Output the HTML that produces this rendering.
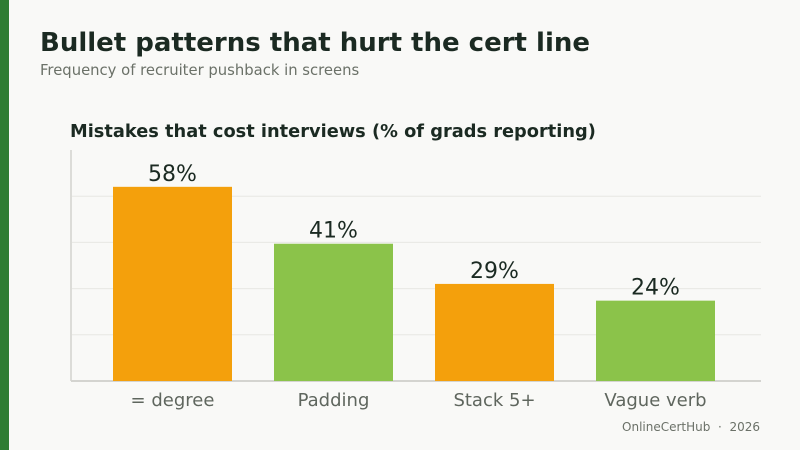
<!DOCTYPE html>
<html><head><meta charset="utf-8"><style>
body{margin:0;width:800px;height:450px;background:#f9f9f7;font-family:"DejaVu Sans","Liberation Sans",sans-serif;overflow:hidden;position:relative}
.t{position:absolute;white-space:nowrap}
</style></head><body>
<div style="position:absolute;left:0;top:0;width:9px;height:450px;background:#2e7d32"></div>
<div class="t" style="left:40px;top:28px;font-size:26px;font-weight:bold;color:#1b2a22">Bullet patterns that hurt the cert line</div>
<div class="t" style="left:40px;top:62px;font-size:14.8px;color:#6b7168">Frequency of recruiter pushback in screens</div>
<div class="t" style="left:70px;top:121px;font-size:17.8px;font-weight:bold;color:#1b2a22">Mistakes that cost interviews (% of grads reporting)</div>
<svg id="c" width="800" height="450" style="position:absolute;left:0;top:0"></svg>
<div class="t" style="right:40px;top:420px;font-size:12px;color:#6b7168">OnlineCertHub &nbsp;·&nbsp; 2026</div>
<script>
const categories=["= degree","Padding","Stack 5+","Vague verb"];
const values=[58,41,29,24];
const colors=["#f4a00c","#8bc34a","#f4a00c","#8bc34a"];
const yMax=69, gridCount=5;
const svg=document.getElementById('c');const NS="http://www.w3.org/2000/svg";
const x0=71,x1=761,yTop=150,yBase=381;
const y=v=>yBase-(v/yMax)*(yBase-yTop);
const xc=i=>172.5+i*161;
function mk(t,a){const e=document.createElementNS(NS,t);for(const k in a)e.setAttribute(k,a[k]);svg.appendChild(e);return e;}
for(let g=1;g<gridCount;g++){const gy=y(yMax*g/gridCount);
const l=mk('line',{x1:x0,x2:x1,y1:gy,y2:gy,stroke:'#e8e8e4','stroke-width':1});

}
const ya=mk('line',{x1:x0,x2:x0,y1:yTop,y2:yBase,stroke:'#dcdcd8','stroke-width':2});


const xa=mk('line',{x1:x0,x2:x1,y1:yBase,y2:yBase,stroke:'#d4d4d0','stroke-width':2});


values.forEach((v,i)=>{
const r=mk('rect',{x:xc(i)-59.5,y:y(v),width:119,height:yBase-y(v),fill:colors[i]});


const t=mk('text',{x:xc(i),y:y(v)-6,'text-anchor':'middle','font-size':22,fill:'#1b2a22'});t.textContent=v+'%';


const c=mk('text',{x:xc(i),y:406,'text-anchor':'middle','font-size':18,fill:'#5f665e'});c.textContent=categories[i];


});
</script>
</body></html>
